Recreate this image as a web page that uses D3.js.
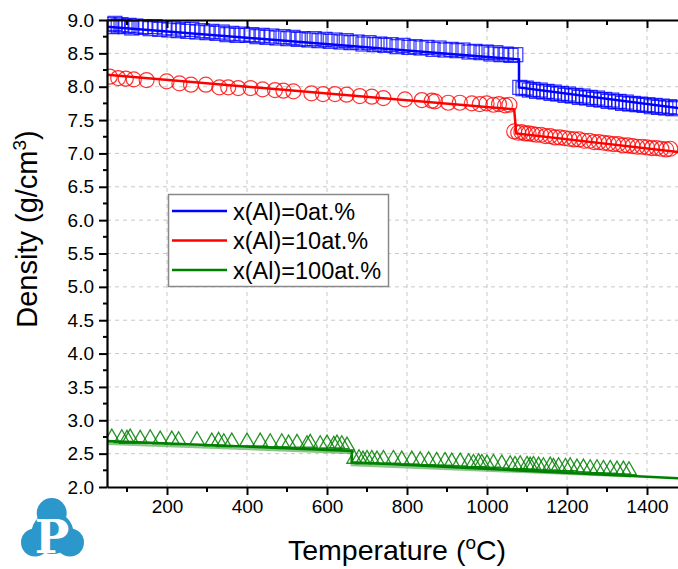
<!DOCTYPE html>
<html>
<head>
<meta charset="utf-8">
<script src="https://cdn.jsdelivr.net/npm/d3@7"></script>
<style>
html,body{margin:0;padding:0;background:#fff;}
svg{display:block;font-family:"Liberation Sans",Arial,sans-serif;}
</style>
</head>
<body>
<svg id="chart" width="678" height="569"></svg>
<script>
// ---------- data ----------
const xMajorTicks = [200, 400, 600, 800, 1000, 1200, 1400];
const xMinorTicks = [100, 300, 500, 700, 900, 1100, 1300];
const yMajorTicks = [2.0, 2.5, 3.0, 3.5, 4.0, 4.5, 5.0, 5.5, 6.0, 6.5, 7.0, 7.5, 8.0, 8.5, 9.0];
const yMinorTicks = [2.25, 2.75, 3.25, 3.75, 4.25, 4.75, 5.25, 5.75, 6.25, 6.75, 7.25, 7.75, 8.25, 8.75];

const seriesNames = ["x(Al)=0at.%", "x(Al)=10at.%", "x(Al)=100at.%"];

// fitted lines [T, density]
const blueLine = [[50, 8.90], [1080, 8.41], [1080, 7.99], [1480, 7.68]];
const redLine = [[50, 8.18], [1068, 7.66], [1073, 7.30], [1480, 7.02]];
const greenLine = [[50, 2.69], [662, 2.54], [662, 2.37], [1480, 2.13]];
const greenLineFaint = [[50, 2.65], [662, 2.51], [662, 2.33], [1360, 2.16]];

// measured points [T, density]
const blueSquares = [
  [55,8.93],[62,8.90],[70,8.95],[78,8.91],[85,8.93],[95,8.90],[105,8.92],[112,8.88],[122,8.91],[135,8.89],
  [145,8.90],[158,8.87],[170,8.90],[182,8.86],[195,8.88],[205,8.85],[215,8.88],[228,8.84],[240,8.86],[252,8.83],
  [262,8.86],[275,8.82],[288,8.84],[300,8.81],[312,8.83],[325,8.80],[338,8.82],[350,8.78],[362,8.80],[375,8.77],
  [388,8.79],[400,8.77],[412,8.78],[425,8.75],[438,8.77],[450,8.74],[462,8.76],[475,8.73],[490,8.75],[502,8.72],
  [515,8.74],[528,8.71],[540,8.72],[555,8.70],[568,8.72],[580,8.69],[595,8.71],[608,8.68],[620,8.70],[635,8.67],
  [648,8.69],[660,8.66],[675,8.67],[690,8.64],[705,8.66],[718,8.63],[732,8.64],[745,8.62],[760,8.63],[775,8.60],
  [790,8.62],[805,8.59],[820,8.60],[835,8.58],[850,8.59],[865,8.56],[880,8.58],[895,8.55],[910,8.56],[925,8.54],
  [940,8.55],[955,8.52],[970,8.53],[985,8.51],[998,8.52],[1010,8.49],[1022,8.51],[1035,8.48],[1048,8.49],[1060,8.47],
  [1072,8.48],
  [1082,7.99],[1090,7.97],[1098,7.98],[1106,7.95],[1115,7.96],[1124,7.93],[1133,7.95],[1142,7.92],[1150,7.93],
  [1160,7.90],[1168,7.92],[1177,7.89],[1186,7.90],[1195,7.87],[1204,7.89],[1213,7.86],[1222,7.87],[1231,7.84],
  [1240,7.86],[1249,7.83],[1258,7.84],[1267,7.81],[1276,7.83],[1285,7.80],[1294,7.81],[1303,7.78],[1312,7.80],
  [1321,7.77],[1330,7.78],[1339,7.75],[1348,7.77],[1357,7.74],[1366,7.75],[1375,7.73],[1384,7.74],[1393,7.72],
  [1402,7.73],[1411,7.70],[1420,7.72],[1429,7.69],[1438,7.71],[1447,7.68],[1456,7.70],[1465,7.67],[1472,7.69]
];

const redCircles = [
  [57,8.15],[78,8.13],[97,8.12],[117,8.11],[149,8.10],[199,8.08],[231,8.05],[260,8.03],[297,8.03],[331,7.99],
  [353,7.99],[378,7.98],[409,7.98],[439,7.96],[470,7.95],[491,7.94],[516,7.93],[561,7.90],[590,7.89],[620,7.89],
  [649,7.88],[682,7.86],[712,7.85],[741,7.83],[795,7.81],[837,7.80],[862,7.79],[870,7.78],[903,7.76],[932,7.76],
  [962,7.75],[982,7.74],[999,7.75],[1016,7.73],[1030,7.74],[1045,7.72],[1056,7.73],
  [1068,7.33],[1078,7.31],[1086,7.32],[1095,7.30],[1104,7.30],[1114,7.29],[1124,7.28],[1135,7.28],[1146,7.26],
  [1158,7.26],[1170,7.24],[1182,7.24],[1194,7.23],[1206,7.22],[1218,7.21],[1230,7.21],[1243,7.19],[1256,7.19],
  [1268,7.17],[1280,7.17],[1292,7.16],[1304,7.15],[1316,7.14],[1328,7.14],[1340,7.12],[1352,7.12],[1364,7.11],
  [1376,7.10],[1388,7.10],[1400,7.09],[1412,7.08],[1424,7.08],[1436,7.07],[1448,7.06],[1458,7.07]
];

const greenTriangles = [
  [62,2.74],[87,2.73],[100,2.72],[108,2.74],[133,2.72],[158,2.73],[183,2.71],[212,2.71],[229,2.70],[275,2.70],
  [312,2.68],[329,2.69],[342,2.67],[362,2.68],[400,2.68],[433,2.68],[458,2.67],[487,2.67],[504,2.65],[525,2.66],
  [550,2.64],[558,2.66],[583,2.64],[600,2.65],[617,2.63],[625,2.65],[637,2.64],[650,2.62],
  [668,2.42],[680,2.43],[690,2.41],[700,2.42],[712,2.42],[725,2.41],[741,2.42],[766,2.42],[787,2.41],[812,2.41],
  [833,2.40],[854,2.40],[874,2.39],[895,2.39],[912,2.38],[933,2.38],[954,2.37],[966,2.36],[979,2.37],[987,2.36],
  [1000,2.35],[1016,2.36],[1037,2.35],[1058,2.34],[1070,2.33],[1083,2.34],[1100,2.33],[1108,2.32],[1116,2.33],
  [1129,2.32],[1141,2.31],[1158,2.32],[1166,2.30],[1179,2.31],[1196,2.30],[1208,2.31],[1225,2.29],[1241,2.29],
  [1258,2.28],[1275,2.28],[1291,2.27],[1308,2.27],[1325,2.26],[1341,2.26],[1355,2.25]
];

// ---------- layout ----------
const svg = d3.select("#chart");
const L = 107, R = 679, T = 20, B = 487;
const x = d3.scaleLinear().domain([50, 1480]).range([L, R]);
const y = d3.scaleLinear().domain([2, 9]).range([B, T]);

const BLUE = "#0000ff", RED = "#ff0000", GREEN = "#008000";

// grid
const grid = svg.append("g");
grid.selectAll("line.gx").data(xMajorTicks).enter().append("line")
  .attr("x1", d => x(d)).attr("x2", d => x(d)).attr("y1", T).attr("y2", B)
  .attr("stroke", "#c8c8c8").attr("stroke-width", 1).attr("stroke-dasharray", "4,4");
grid.selectAll("line.gy").data(yMajorTicks.filter(v => v > 2 && v < 9)).enter().append("line")
  .attr("x1", L).attr("x2", R).attr("y1", d => y(d)).attr("y2", d => y(d))
  .attr("stroke", "#c8c8c8").attr("stroke-width", 1).attr("stroke-dasharray", "4,4");

// clip
svg.append("clipPath").attr("id", "clip").append("rect")
  .attr("x", L).attr("y", T - 8).attr("width", R - L).attr("height", B - T + 8);
const plot = svg.append("g").attr("clip-path", "url(#clip)");

const lineGen = d3.line().x(d => x(d[0])).y(d => y(d[1]));

// green
plot.append("path").datum(greenLineFaint).attr("d", lineGen)
  .attr("fill", "none").attr("stroke", GREEN).attr("stroke-opacity", 0.45).attr("stroke-width", 2.5);
const triSym = d3.symbol().type(d3.symbolTriangle).size(95);
plot.selectAll("path.tri").data(greenTriangles).enter().append("path")
  .attr("d", triSym)
  .attr("transform", d => `translate(${x(d[0])},${y(d[1])})`)
  .attr("fill", "none").attr("stroke", GREEN).attr("stroke-opacity", 0.85).attr("stroke-width", 1.3);
plot.append("path").datum(greenLine).attr("d", lineGen)
  .attr("fill", "none").attr("stroke", GREEN).attr("stroke-width", 2.5);

// red
plot.selectAll("circle.rc").data(redCircles).enter().append("circle")
  .attr("cx", d => x(d[0])).attr("cy", d => y(d[1])).attr("r", 7.5)
  .attr("fill", "none").attr("stroke", RED).attr("stroke-opacity", 0.8).attr("stroke-width", 1.2);
plot.append("path").datum(redLine).attr("d", lineGen)
  .attr("fill", "none").attr("stroke", RED).attr("stroke-width", 2.5);

// blue
plot.append("path").datum(blueLine).attr("d", lineGen)
  .attr("fill", "none").attr("stroke", BLUE).attr("stroke-width", 2.5);
plot.selectAll("rect.bs").data(blueSquares).enter().append("rect")
  .attr("x", d => x(d[0]) - 7).attr("y", d => y(d[1]) - 7).attr("width", 14).attr("height", 14)
  .attr("fill", "none").attr("stroke", BLUE).attr("stroke-opacity", 0.8).attr("stroke-width", 1.2);

// axes
const xb = svg.append("g").attr("transform", `translate(0,${B})`)
  .call(d3.axisBottom(x).tickValues(xMajorTicks).tickSize(8).tickSizeOuter(0).tickPadding(5).tickFormat(d3.format("d")));
xb.append("g").selectAll("line").data(xMinorTicks).enter().append("line")
  .attr("x1", d => x(d)).attr("x2", d => x(d)).attr("y1", 0).attr("y2", 5).attr("stroke", "#000").attr("stroke-width", 2);
const xt = svg.append("g").attr("transform", `translate(0,${T})`)
  .call(d3.axisTop(x).tickValues(xMajorTicks).tickSize(-8).tickSizeOuter(0).tickFormat(""));
xt.append("g").selectAll("line").data(xMinorTicks).enter().append("line")
  .attr("x1", d => x(d)).attr("x2", d => x(d)).attr("y1", 0).attr("y2", 5).attr("stroke", "#000").attr("stroke-width", 2);
const yl = svg.append("g").attr("transform", `translate(${L},0)`)
  .call(d3.axisLeft(y).tickValues(yMajorTicks).tickSize(8).tickSizeOuter(0).tickPadding(5).tickFormat(d3.format(".1f")));
yl.append("g").selectAll("line").data(yMinorTicks).enter().append("line")
  .attr("x1", 0).attr("x2", -4).attr("y1", d => y(d)).attr("y2", d => y(d)).attr("stroke", "#000").attr("stroke-width", 2);

[xb, xt, yl].forEach(g => {
  g.select(".domain").attr("stroke", "#000").attr("stroke-width", 2.2);
  g.selectAll(".tick line").attr("stroke", "#000").attr("stroke-width", 2);
  g.selectAll(".tick text").attr("fill", "#000").style("font-size", "19px")
    .style("font-family", '"Liberation Sans", Arial, sans-serif');
});

// axis titles
const yt = svg.append("text")
  .attr("transform", "translate(37,229) rotate(-90)")
  .attr("text-anchor", "middle").style("font-size", "29px").attr("fill", "#000");
yt.append("tspan").text("Density (g/cm");
yt.append("tspan").text("3").attr("dy", "-11").style("font-size", "19px");
yt.append("tspan").text(")").attr("dy", "11");

const xtl = svg.append("text")
  .attr("x", 397).attr("y", 560)
  .attr("text-anchor", "middle").style("font-size", "28.5px").attr("fill", "#000");
xtl.append("tspan").text("Temperature (");
xtl.append("tspan").text("o").attr("dy", "-11").style("font-size", "19px");
xtl.append("tspan").text("C)").attr("dy", "11");

// legend
const lg = svg.append("g");
lg.append("rect").attr("x", 168.5).attr("y", 194.5).attr("width", 220).attr("height", 92)
  .attr("fill", "#fff").attr("stroke", "#888").attr("stroke-width", 1.5);
const legendColors = [BLUE, RED, GREEN];
const rows = lg.selectAll("g.row").data(seriesNames).enter().append("g")
  .attr("transform", (d, i) => `translate(0,${211 + i * 29.5})`);
rows.append("line").attr("x1", 172).attr("x2", 227).attr("y1", 0).attr("y2", 0)
  .attr("stroke", (d, i) => legendColors[i]).attr("stroke-width", 2.5);
rows.append("text").attr("x", 233).attr("y", 8.5).text(d => d)
  .style("font-size", "23.5px").attr("fill", "#000");

// logo
const logo = svg.append("g").attr("fill", "#2b97cb");
logo.append("circle").attr("cx", 51.7).attr("cy", 513).attr("r", 15);
logo.append("circle").attr("cx", 35).attr("cy", 542.5).attr("r", 14);
logo.append("circle").attr("cx", 70).attr("cy", 542.5).attr("r", 14);
logo.append("circle").attr("cx", 52.5).attr("cy", 533).attr("r", 21);
svg.append("text").attr("x", 52).attr("y", 553).attr("text-anchor", "middle")
  .style("font-family", '"DejaVu Serif", "Liberation Serif", serif').style("font-weight", "bold")
  .style("font-size", "46px").attr("fill", "#fff").text("P");
</script>
</body>
</html>
